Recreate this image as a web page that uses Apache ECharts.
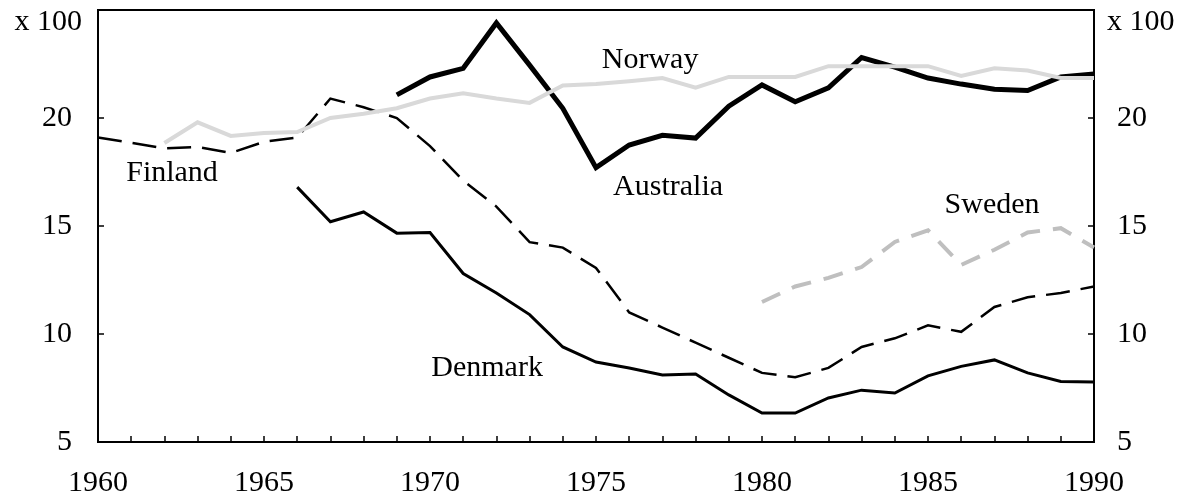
<!DOCTYPE html>
<html>
<head>
<meta charset="utf-8">
<script src="https://cdn.jsdelivr.net/npm/echarts@6/dist/echarts.min.js"></script>
<style>
html,body{margin:0;padding:0;background:#fff;}
#chart{width:1190px;height:501px;}
</style>
</head>
<body>
<div id="chart"></div>
<script>
const years = [1960,1961,1962,1963,1964,1965,1966,1967,1968,1969,1970,1971,1972,1973,1974,1975,1976,1977,1978,1979,1980,1981,1982,1983,1984,1985,1986,1987,1988,1989,1990];
const finland   = [19.1,18.85,18.6,18.66,18.38,18.9,19.1,20.9,20.5,20.0,18.7,17.1,15.9,14.25,14.0,13.06,11.0,10.3,9.6,8.9,8.2,8.0,8.43,9.4,9.8,10.4,10.1,11.25,11.7,11.9,12.2];
const norway    = [null,null,18.84,19.8,19.17,19.3,19.35,20.0,20.2,20.45,20.9,21.15,20.9,20.7,21.5,21.57,21.7,21.85,21.4,21.9,21.9,21.9,22.4,22.4,22.4,22.4,21.95,22.3,22.2,21.85,21.85];
const australia = [null,null,null,null,null,null,null,null,null,21.07,21.9,22.3,24.4,22.45,20.45,17.7,18.75,19.2,19.07,20.55,21.53,20.75,21.4,22.8,22.36,21.85,21.57,21.33,21.27,21.9,22.04];
const denmark   = [null,null,null,null,null,null,16.8,15.2,15.65,14.67,14.7,12.8,11.9,10.9,9.4,8.7,8.43,8.1,8.15,7.18,6.34,6.34,7.04,7.4,7.27,8.06,8.5,8.8,8.2,7.8,7.78];
const sweden    = [null,null,null,null,null,null,null,null,null,null,null,null,null,null,null,null,null,null,null,null,11.48,12.2,12.6,13.1,14.26,14.8,13.2,13.9,14.7,14.9,14.0];
const yTicks = [5,10,15,20,25];
const unitLabel = 'x 100';
// label anchors in data coordinates [year, value]
const labelNames = ['Finland','Norway','Australia','Sweden','Denmark'];
const labelAnchors = [[1962.23,17.45],[1976.63,22.69],[1977.17,16.81],[1986.93,15.97],[1971.72,8.43]];

const FONT = 'Liberation Serif';
const FS = 30;

function pairs(vals){
  const out = [];
  vals.forEach((v,i)=>{ if(v!==null) out.push([years[i], v]); });
  return out;
}
function labelPoint(name){
  const i = labelNames.indexOf(name);
  return [{
    coord: labelAnchors[i],
    symbol: 'circle', symbolSize: 1,
    itemStyle: {color: 'rgba(0,0,0,0)'},
    label: {show: true, position: 'inside', formatter: name, color: '#000', fontFamily: FONT, fontSize: FS}
  }];
}
function mk(name, vals, color, width, dash, z){
  return {
    name: name, type: 'line', data: pairs(vals), showSymbol: false, symbol: 'none',
    z: z, silent: true, animation: false,
    lineStyle: {color: color, width: width, type: dash || 'solid', cap: 'butt', join: 'miter'},
    markPoint: {silent: true, animation: false, data: labelPoint(name)}
  };
}

const chart = echarts.init(document.getElementById('chart'), null, {renderer: 'canvas'});
const yBase = {
  type: 'value', min: yTicks[0], max: yTicks[yTicks.length-1], interval: 5,
  splitLine: {show: false},
  axisLine: {show: true, lineStyle: {color: '#000', width: 2}},
  axisTick: {show: true, inside: true, length: 6, lineStyle: {color: '#000', width: 1.5}},
  nameLocation: 'end', nameGap: -12,
};
chart.setOption({
  animation: false,
  grid: {left: 98, right: 96, top: 10, bottom: 59, show: true, borderColor: '#000', borderWidth: 2, backgroundColor: 'transparent'},
  xAxis: {
    type: 'value', min: years[0], max: years[years.length-1], interval: 5,
    splitLine: {show: false}, minorSplitLine: {show: false},
    axisLine: {show: true, lineStyle: {color: '#000', width: 2}},
    axisTick: {show: true, inside: true, length: 6, lineStyle: {color: '#000', width: 1.5}},
    minorTick: {show: true, splitNumber: 5, length: 6, lineStyle: {color: '#000', width: 1.5}},
    axisLabel: {color: '#000', fontFamily: FONT, fontSize: FS, margin: 26, formatter: v => String(v)}
  },
  yAxis: [
    Object.assign({}, yBase, {
      position: 'left', name: unitLabel,
      nameTextStyle: {color: '#000', fontFamily: FONT, fontSize: FS, align: 'right', verticalAlign: 'middle', padding: [0, 16, 0, 0]},
      axisLabel: {color: '#000', fontFamily: FONT, fontSize: FS, margin: 26, formatter: v => v === 25 ? '' : String(v)}
    }),
    Object.assign({}, yBase, {
      position: 'right', name: unitLabel,
      nameTextStyle: {color: '#000', fontFamily: FONT, fontSize: FS, align: 'left', verticalAlign: 'middle', padding: [0, 0, 0, 13]},
      axisLabel: {color: '#000', fontFamily: FONT, fontSize: FS, margin: 23, formatter: v => v === 25 ? '' : String(v)}
    })
  ],
  series: [
    mk('Finland', finland, '#000', 2.5, [24, 11], 2),
    mk('Denmark', denmark, '#000', 3, 'solid', 3),
    mk('Sweden', sweden, '#bfbfbf', 4, [20, 13], 4),
    mk('Australia', australia, '#000', 5, 'solid', 5),
    mk('Norway', norway, '#d9d9d9', 4, 'solid', 6)
  ]
});
</script>
</body>
</html>
